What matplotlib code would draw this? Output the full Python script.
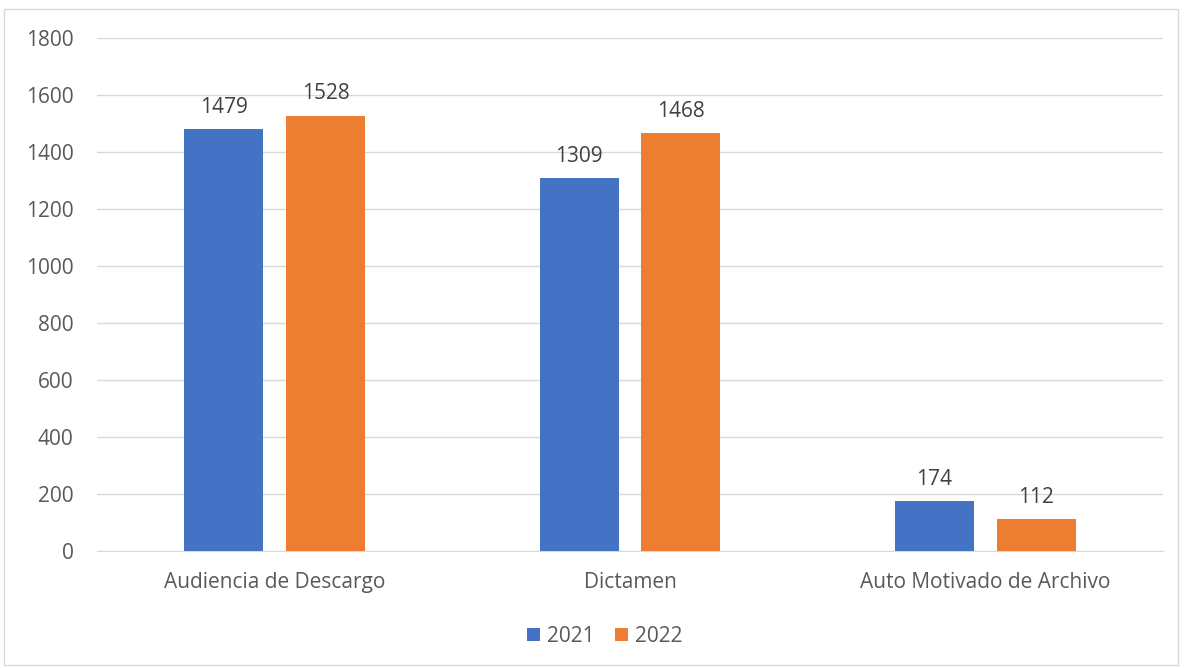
import matplotlib.pyplot as plt
from matplotlib.patches import Rectangle
import numpy as np

categories = ["Audiencia de Descargo", "Dictamen", "Auto Motivado de Archivo"]
values_2021 = [1479, 1309, 174]
values_2022 = [1528, 1468, 112]
series_labels = ["2021", "2022"]

plt.rcParams['font.family'] = ['Open Sans', 'DejaVu Sans']

fig = plt.figure(figsize=(11.85, 6.68), dpi=100)
ax = fig.add_axes([97 / 1185, 1 - 551 / 668, 1066 / 1185, 513 / 668])

# marco del grafico
fig.patches.append(Rectangle((4 / 1185, 3 / 668), 1174 / 1185, 656 / 668,
                             transform=fig.transFigure, fill=False,
                             edgecolor='#d9d9d9', linewidth=1))

x = np.arange(len(categories))
w = 0.222
off = 0.143
b1 = ax.bar(x - off, values_2021, w, color='#4472c4', label=series_labels[0], zorder=3)
b2 = ax.bar(x + off, values_2022, w, color='#ed7d31', label=series_labels[1], zorder=3)

for bars in (b1, b2):
    for rect in bars:
        h = rect.get_height()
        ax.annotate(f"{int(h)}", (rect.get_x() + rect.get_width() / 2, h),
                    xytext=(0, 8), textcoords='offset points',
                    ha='center', va='bottom', fontsize=15, color='#404040')

ax.set_xlim(-0.5, 2.5)
ax.set_ylim(0, 1800)
ax.set_yticks(range(0, 1801, 200))
ax.set_xticks(x)
ax.set_xticklabels(categories)
ax.grid(axis='y', color='#d9d9d9', linewidth=1, zorder=0)
for s in ['top', 'right', 'left']:
    ax.spines[s].set_visible(False)
ax.spines['bottom'].set_color('#d9d9d9')
ax.tick_params(axis='both', length=0, labelcolor='#595959')
ax.tick_params(axis='y', pad=17, labelsize=15)
ax.tick_params(axis='x', pad=15, labelsize=15)

fig.legend(handles=[b1, b2], loc='center', bbox_to_anchor=(605 / 1185, 1 - 636 / 668),
           ncol=2, frameon=False, fontsize=15, labelcolor='#595959',
           handlelength=0.6, handleheight=0.6, columnspacing=1.0, handletextpad=0.35)

fig.savefig("out.png", dpi=100)
